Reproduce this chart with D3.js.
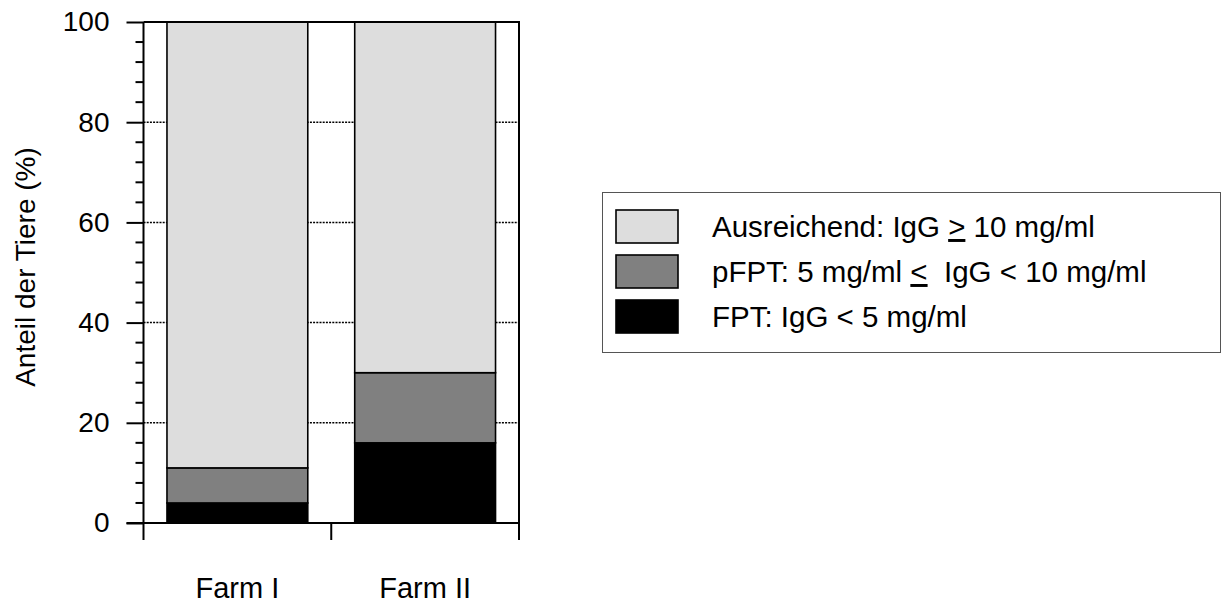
<!DOCTYPE html>
<html>
<head>
<meta charset="utf-8">
<script src="https://cdn.jsdelivr.net/npm/d3@7"></script>
<style>
  html, body { margin: 0; padding: 0; background: #fff; }
  svg { display: block; }
  text { font-family: "Liberation Sans", Arial, Helvetica, sans-serif; fill: #000; white-space: pre; }
</style>
</head>
<body>
<svg id="chart" width="1223" height="604"></svg>
<script>
// Farms and the share of calves (%) in each IgG class
const farms = ["Farm I", "Farm II"];
const fptValues = [4, 16];          // FPT: IgG < 5 mg/ml
const pfptValues = [7, 14];         // pFPT: 5 mg/ml <= IgG < 10 mg/ml
const ausreichendValues = [89, 70]; // Ausreichend: IgG >= 10 mg/ml
const seriesKeys = ["fpt", "pfpt", "ausreichend"];
const seriesColors = ["#000000", "#808080", "#dddddd"];
const yTicks = [0, 20, 40, 60, 80, 100];
const yMinorTicks = [4, 8, 12, 16, 24, 28, 32, 36, 44, 48, 52, 56, 64, 68, 72, 76, 84, 88, 92, 96];
const gridTicks = [20, 40, 60, 80];
const yLabel = "Anteil der Tiere (%)";

const rows = farms.map((f, i) => ({
  farm: f, fpt: fptValues[i], pfpt: pfptValues[i], ausreichend: ausreichendValues[i]
}));

const svg = d3.select("#chart");
const plotLeft = 143.5, plotRight = 519, plotTop = 22, plotBottom = 523;

const x = d3.scaleBand().domain(farms).range([plotLeft, plotRight]).padding(0);
const y = d3.scaleLinear().domain([0, 100]).range([plotBottom, plotTop]);

// dotted grid lines behind the bars
svg.append("g").selectAll("line").data(gridTicks).join("line")
  .attr("x1", plotLeft).attr("x2", plotRight)
  .attr("y1", d => y(d)).attr("y2", d => y(d))
  .attr("stroke", "#000").attr("stroke-width", 1.5)
  .attr("stroke-dasharray", "2,1.2");

// stacked bars
const stack = d3.stack().keys(seriesKeys)(rows);
const barInset = x.bandwidth() * 0.125;
const barWidth = x.bandwidth() * 0.75;
stack.forEach((layer, li) => {
  svg.append("g").selectAll("rect").data(layer).join("rect")
    .attr("x", d => x(d.data.farm) + barInset)
    .attr("width", barWidth)
    .attr("y", d => y(d[1]))
    .attr("height", d => y(d[0]) - y(d[1]))
    .attr("fill", seriesColors[li])
    .attr("stroke", "#000").attr("stroke-width", 1.6);
});

// y axis with major and minor ticks
const yAxis = svg.append("g").attr("transform", `translate(${plotLeft},0)`)
  .call(d3.axisLeft(y).tickValues(yTicks).tickSize(17).tickPadding(17).tickFormat(d3.format("d")));
yAxis.selectAll("text").attr("font-size", 28).attr("font-family", "Liberation Sans, Arial, sans-serif");
yAxis.selectAll("line, path").attr("stroke", "#000").attr("stroke-width", 2);
yAxis.select(".domain").attr("d", `M0,${plotBottom}V${plotTop}`);
svg.append("g").attr("transform", `translate(${plotLeft},0)`).selectAll("line").data(yMinorTicks).join("line")
  .attr("x1", -8).attr("x2", 0).attr("y1", d => y(d)).attr("y2", d => y(d))
  .attr("stroke", "#000").attr("stroke-width", 2);

// x axis: ticks on the category boundaries
const boundaries = [plotLeft, ...farms.map(f => x(f) + x.bandwidth())];
svg.append("line").attr("x1", plotLeft - 17).attr("x2", plotRight + 1)
  .attr("y1", plotBottom).attr("y2", plotBottom).attr("stroke", "#000").attr("stroke-width", 2);
svg.append("g").selectAll("line").data(boundaries).join("line")
  .attr("x1", d => d).attr("x2", d => d).attr("y1", plotBottom).attr("y2", plotBottom + 17)
  .attr("stroke", "#000").attr("stroke-width", 2);
svg.append("g").selectAll("text").data(farms).join("text")
  .attr("x", d => x(d) + x.bandwidth() / 2).attr("y", 598)
  .attr("text-anchor", "middle").attr("font-size", 29).text(d => d);

// frame: top and right border
svg.append("line").attr("x1", plotLeft).attr("x2", plotRight + 1).attr("y1", plotTop).attr("y2", plotTop)
  .attr("stroke", "#000").attr("stroke-width", 2);
svg.append("line").attr("x1", plotRight).attr("x2", plotRight).attr("y1", plotTop).attr("y2", plotBottom)
  .attr("stroke", "#000").attr("stroke-width", 2);

// y axis title
svg.append("text")
  .attr("transform", "translate(35,267) rotate(-90)")
  .attr("text-anchor", "middle").attr("font-size", 28).text(yLabel);

// legend
const legend = svg.append("g");
legend.append("rect").attr("x", 602.5).attr("y", 192.5).attr("width", 618).attr("height", 160)
  .attr("fill", "#fff").attr("stroke", "#555").attr("stroke-width", 1);
const legendRows = [
  { color: seriesColors[2], parts: ["Ausreichend: IgG ", ">", " 10 mg/ml"] },
  { color: seriesColors[1], parts: ["pFPT: 5 mg/ml ", "<", "  IgG < 10 mg/ml"] },
  { color: seriesColors[0], parts: ["FPT: IgG < 5 mg/ml"] }
];
legendRows.forEach((r, i) => {
  const yy = 210 + i * 45;
  legend.append("rect").attr("x", 616).attr("y", yy).attr("width", 62).attr("height", 33)
    .attr("fill", r.color).attr("stroke", "#000").attr("stroke-width", 1.6);
  const t = legend.append("text").attr("x", 712).attr("y", yy + 27).attr("font-size", 29.5);
  r.parts.forEach((p, j) => {
    const ts = t.append("tspan").text(p);
    if (j === 1) ts.attr("text-decoration", "underline");
  });
});
</script>
</body>
</html>
